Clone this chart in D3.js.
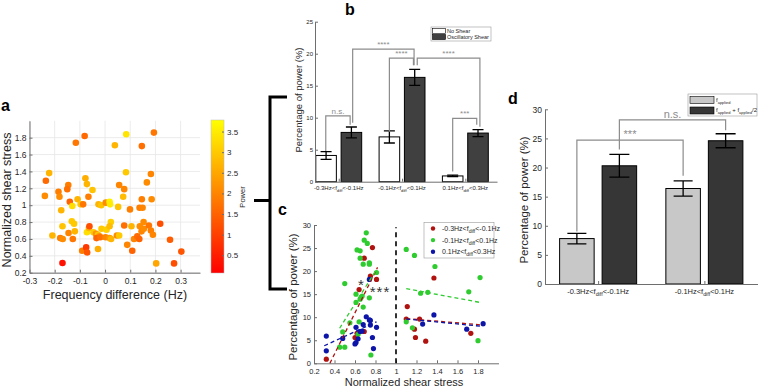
<!DOCTYPE html>
<html>
<head>
<meta charset="utf-8">
<script src="https://cdn.jsdelivr.net/npm/d3@7"></script>
<style>
  body { margin: 0; background: #fff; }
  text { font-family: "Liberation Sans", Arial, sans-serif; }
</style>
</head>
<body>
<svg id="fig" width="758" height="387"></svg>
<script>
// ---- panel a : frequency difference vs shear stress, coloured by power
const freqDiff = [-0.169,-0.081,-0.116,0.084,0.194,0.039,0.146,-0.222,-0.235,-0.239,-0.078,-0.072,-0.05,-0.066,-0.146,-0.15,-0.185,-0.181,-0.14,-0.13,-0.109,-0.097,-0.087,-0.174,-0.209,-0.169,-0.132,-0.123,-0.145,-0.12,-0.178,-0.168,-0.128,-0.091,-0.075,-0.071,-0.072,-0.064,-0.062,-0.046,-0.036,-0.028,-0.022,-0.034,-0.019,-0.028,-0.026,-0.015,-0.014,0.003,0.002,0.006,0.018,0.02,0.023,0.018,0.018,0.024,0.047,0.056,0.052,0.056,0.072,0.076,0.083,0.076,0.088,0.099,0.105,0.108,0.115,0.128,0.136,0.137,0.149,0.146,0.138,0.145,0.153,0.154,0.166,0.174,0.182,0.185,0.182,0.19,0.203,0.219,0.258,0.274,0.303];
const shearA = [0.315,1.82,1.74,1.84,1.86,1.71,1.70,1.38,1.29,1.11,1.32,1.25,1.18,1.10,1.24,1.19,1.16,1.10,1.04,0.99,1.07,1.01,1.01,0.94,0.64,0.75,0.81,0.78,0.67,0.69,0.61,0.60,0.60,0.46,0.50,0.44,0.68,0.73,0.75,0.68,0.66,0.65,0.63,0.61,0.62,0.48,1.01,1.0,0.72,1.03,0.62,0.71,1.04,1.01,0.80,0.75,0.61,0.60,0.64,0.64,0.98,1.24,1.10,1.19,1.39,0.76,0.53,0.95,0.75,0.46,0.60,0.63,0.60,0.97,0.97,1.07,0.75,0.69,0.80,0.72,1.27,0.76,1.37,1.07,0.70,0.65,0.31,0.78,0.59,0.31,0.45];
const powerA = [0.3,1.6,1.8,3.4,1.8,2.7,1.7,2.7,1.6,2.1,2.6,2.7,2.9,1.9,1.9,1.7,1.9,2.1,1.5,3.3,2.7,3.0,1.8,2.7,2.7,2.9,3.0,3.0,2.0,2.7,1.9,2.1,1.8,1.9,0.9,1.3,3.3,2.7,1.2,3.0,2.2,2.9,2.2,1.5,1.7,2.6,2.7,2.9,3.0,2.1,2.0,3.1,3.6,3.5,3.1,2.8,2.3,2.7,2.1,3.0,2.9,2.0,2.8,2.0,3.0,1.7,2.0,1.9,2.7,1.5,2.0,1.6,1.5,1.9,2.0,1.9,2.1,2.0,2.1,2.1,2.1,1.8,2.0,2.1,1.9,2.0,2.5,1.2,1.4,1.2,1.3];
const aXTicks = [-0.3,-0.2,-0.1,0,0.1,0.2,0.3];
const aYTicks = [0.2,0.4,0.6,0.8,1,1.2,1.4,1.6,1.8];
const powerTicks = [0.5,1,1.5,2,2.5,3,3.5];

// ---- panel b : power per band, no shear vs oscillatory shear
const bandLo = ["-0.3Hz","-0.1Hz","0.1Hz"];
const bandHi = ["-0.1Hz","0.1Hz","0.3Hz"];
const noShear = [4.1, 7.0, 0.9];
const noShearErr = [0.6, 0.95, 0.12];
const oscShear = [7.7, 16.3, 7.6];
const oscShearErr = [0.85, 1.25, 0.55];
const bYTicks = [0,5,10,15,20,25];
// brackets: x1, x2, top, left foot, right foot, label
const bSig = [
  [0.795, 1.18, 10.3, 4.8, 8.9, "n.s."],
  [1.22, 2.19, 20.7, 9.2, 18.2, "****"],
  [1.80, 2.18, 19.3, 7.8, 18.2, "****"],
  [2.24, 3.23, 19.3, 18.2, 8.6, "****"],
  [2.80, 3.18, 9.9, 1.6, 8.9, "***"]
];

// ---- panel c : power vs normalized shear stress per band
const redX = [0.32,0.64,0.69,0.77,0.75,0.81,0.60,0.69,0.62,1.11,1.37,1.10,1.23,1.18,1.73,1.19,1.29];
const redY = [0.9,16.0,22.8,25.1,18.9,18.2,5.6,6.9,6.5,12.3,18.5,9.6,9.6,7.4,6.5,5.6,4.8];
const greenX = [0.71,0.69,0.72,0.62,0.65,0.65,0.74,0.74,0.68,0.81,0.50,0.61,0.67,0.66,0.74,0.65,0.61,0.68,0.55,0.64,0.48,0.63,0.45,0.50,0.755,1.10,1.18,1.38,1.82,1.24,1.31,1.71,1.10,1.16,1.80];
const greenY = [28.3,26.7,26.0,24.6,24.4,22.8,21.8,21.5,21.5,19.7,17.3,15.0,14.6,14.3,14.2,13.9,13.2,12.2,8.8,9.0,6.8,6.3,3.5,3.5,1.8,24.7,23.4,21.0,18.6,15.2,15.4,15.5,9.0,7.7,4.9];
const blueX = [0.32,0.32,0.48,0.61,0.74,0.71,0.74,0.75,0.68,0.75,0.81,0.65,0.67,0.63,0.60,0.61,0.77,0.78,1.37,1.26,1.69,1.85];
const blueY = [5.9,2.7,5.4,7.8,18.2,10.1,9.4,9.3,8.4,8.3,7.8,6.9,7.0,5.3,4.2,4.5,5.6,3.2,10.5,8.5,7.4,8.6];
// fitted lines (end points), below / above shear 1
const redFit = [[[0.355,0],[0.82,20.8]], [[1.1,9.7],[1.85,8.3]]];
const greenFit = [[[0.45,7.6],[0.80,20.0]], [[1.1,16.2],[1.82,13.2]]];
const blueFit = [[[0.30,3.8],[0.81,9.0]], [[1.1,9.6],[1.85,8.0]]];
const cXTicks = [0.2,0.4,0.6,0.8,1,1.2,1.4,1.6,1.8];
const cYTicks = [0,5,10,15,20,25,30];

// ---- panel d : f_applied vs f_applied + f_applied/2
const dLo = ["-0.3Hz","-0.1Hz"];
const dHi = ["-0.1Hz","0.1Hz"];
const fApplied = [7.8, 16.4];
const fAppliedErr = [0.9, 1.3];
const fHalf = [20.3, 24.6];
const fHalfErr = [1.95, 1.2];
const dYTicks = [0,5,10,15,20,25,30];
const dSig = [
  [0.80, 1.80, 24.7, 9.0, 18.6, "***"],
  [1.20, 2.20, 28.2, 23.1, 26.4, "n.s."]
];

const axisCol = "#6e6e6e";
const txtCol = "#262626";
const svg = d3.select("#fig");
const fmt = d => String(+(+d).toFixed(2));

function styleAxis(ax, fs) {
  ax.attr("font-family", null).attr("font-size", null);
  ax.select(".domain").attr("stroke", axisCol);
  ax.selectAll(".tick line").attr("stroke", axisCol);
  ax.selectAll(".tick text").attr("font-size", fs).attr("fill", txtCol);
}
function leftAxis(y, ticks, x0, fs, pad) {
  const ax = svg.append("g").attr("transform", `translate(${x0},0)`)
    .call(d3.axisLeft(y).tickValues(ticks).tickFormat(fmt).tickSize(-3).tickSizeOuter(0).tickPadding(pad || 3));
  styleAxis(ax, fs);
  return ax;
}
function bottomAxis(x, ticks, y0, fs, f) {
  const ax = svg.append("g").attr("transform", `translate(0,${y0})`)
    .call(d3.axisBottom(x).tickValues(ticks).tickFormat(f || fmt).tickSize(-3).tickSizeOuter(0).tickPadding(5));
  styleAxis(ax, fs);
  return ax;
}
function yLabel(txt, x, y, fs) {
  svg.append("text").attr("transform", `translate(${x},${y}) rotate(-90)`)
    .attr("text-anchor", "middle").attr("font-size", fs).attr("fill", txtCol).text(txt);
}
function panelLetter(t, x, y) {
  svg.append("text").attr("x", x).attr("y", y).attr("font-size", 16)
    .attr("font-weight", "bold").attr("fill", "#000").text(t);
}
// label with subscript "diff"
function bandLabel(g, x, y, lo, hi, fs) {
  const t = g.append("text").attr("x", x).attr("y", y).attr("text-anchor", "middle")
    .attr("font-size", fs).attr("fill", txtCol);
  t.append("tspan").text(lo + "<f");
  t.append("tspan").attr("dy", fs * 0.3).attr("font-size", fs * 0.7).text("diff");
  t.append("tspan").attr("dy", -fs * 0.3).text("<" + hi);
}
function sigBrackets(list, x, y, fs, col) {
  list.forEach(s => {
    svg.append("path")
      .attr("d", `M${x(s[0])},${y(s[3])}V${y(s[2])}H${x(s[1])}V${y(s[4])}`)
      .attr("fill", "none").attr("stroke", col).attr("stroke-width", 1.2);
    svg.append("text").attr("x", (x(s[0]) + x(s[1])) / 2).attr("y", y(s[2]) - 2)
      .attr("text-anchor", "middle").attr("font-size", fs).attr("fill", col).text(s[5]);
  });
}
function errBars(xs, vals, errs, x, y, cap) {
  vals.forEach((v, i) => {
    const cx = x(xs[i]);
    svg.append("path")
      .attr("d", `M${cx},${y(v - errs[i])}V${y(v + errs[i])}M${cx - cap / 2},${y(v - errs[i])}h${cap}M${cx - cap / 2},${y(v + errs[i])}h${cap}`)
      .attr("stroke", "#000").attr("stroke-width", 1.3).attr("fill", "none");
  });
}

// ================= panel a
const xA = d3.scaleLinear([-0.3, 0.377], [29.5, 200]);
const yA = d3.scaleLinear([0.2, 2.0], [272.7, 120.8]);
const cbMin = 0.07, cbMax = 3.78;
const colA = p => d3.rgb(255, Math.round(255 * (p - cbMin) / (cbMax - cbMin)), 0);

const gridA = svg.append("g").attr("stroke", "#e6e6e6").attr("stroke-width", 0.8);
aXTicks.forEach(t => gridA.append("line").attr("x1", xA(t)).attr("x2", xA(t)).attr("y1", yA(2.0)).attr("y2", yA(0.2)));
aYTicks.forEach(t => gridA.append("line").attr("x1", xA(-0.3)).attr("x2", xA(0.377)).attr("y1", yA(t)).attr("y2", yA(t)));
leftAxis(yA, aYTicks, 29.5, 8.5);
bottomAxis(xA, aXTicks, 272.7, 8.5);

svg.append("g").selectAll("circle").data(freqDiff).join("circle")
  .attr("cx", d => xA(d)).attr("cy", (d, i) => yA(shearA[i]))
  .attr("r", 3.3).attr("fill", (d, i) => colA(powerA[i]));

svg.append("text").attr("x", 115).attr("y", 299).attr("text-anchor", "middle")
  .attr("font-size", 12.5).attr("fill", txtCol).text("Frequency difference (Hz)");
yLabel("Normalized shear stress", 11, 200, 12.5);

// colorbar
const cbY = d3.scaleLinear([cbMin, cbMax], [273, 120]);
const grad = svg.append("defs").append("linearGradient").attr("id", "autumn")
  .attr("x1", 0).attr("y1", 1).attr("x2", 0).attr("y2", 0);
grad.append("stop").attr("offset", 0).attr("stop-color", "#ff0000");
grad.append("stop").attr("offset", 1).attr("stop-color", "#ffff00");
svg.append("rect").attr("x", 211).attr("y", 120).attr("width", 13).attr("height", 153)
  .attr("fill", "url(#autumn)").attr("stroke", "#bbb").attr("stroke-width", 0.5);
const cbAx = svg.append("g").attr("transform", "translate(224,0)")
  .call(d3.axisRight(cbY).tickValues(powerTicks).tickFormat(fmt).tickSize(-2).tickSizeOuter(0).tickPadding(3));
styleAxis(cbAx, 8);
cbAx.select(".domain").remove();
svg.append("text").attr("transform", "translate(245,197) rotate(-90)").attr("text-anchor", "middle")
  .attr("font-size", 7.5).attr("fill", txtCol).text("Power");
panelLetter("a", 1, 111);

// connector bracket
svg.append("path").attr("d", "M254,200.5H270M287,97H270V289H287")
  .attr("fill", "none").attr("stroke", "#000").attr("stroke-width", 3);

// ================= panel b
const xB = d3.scaleLinear([0.625, 3.5], [315, 497]);
const yB = d3.scaleLinear([0, 25], [181.7, 21.7]);
const bw = 0.325, off = 0.2;
const groupsB = [1, 2, 3];
svg.append("g").selectAll("rect").data(noShear).join("rect")
  .attr("x", (d, i) => xB(groupsB[i] - off - bw / 2)).attr("width", xB(bw) - xB(0))
  .attr("y", d => yB(d)).attr("height", d => yB(0) - yB(d))
  .attr("fill", "#fff").attr("stroke", "#000").attr("stroke-width", 1);
svg.append("g").selectAll("rect").data(oscShear).join("rect")
  .attr("x", (d, i) => xB(groupsB[i] + off - bw / 2)).attr("width", xB(bw) - xB(0))
  .attr("y", d => yB(d)).attr("height", d => yB(0) - yB(d))
  .attr("fill", "#404040").attr("stroke", "#000").attr("stroke-width", 1);
leftAxis(yB, bYTicks, 315, 6, 2);
bottomAxis(xB, groupsB, 181.7, 6, () => "");
errBars(groupsB.map(g => g - off), noShear, noShearErr, xB, yB, 11);
errBars(groupsB.map(g => g + off), oscShear, oscShearErr, xB, yB, 11);
groupsB.forEach((g, i) => bandLabel(svg, xB(g), 190, bandLo[i], bandHi[i], 6));
sigBrackets(bSig, xB, yB, 8, "#8c8c8c");
yLabel("Percentage of power (%)", 302, 100, 9.5);
// legend b
svg.append("rect").attr("x", 431).attr("y", 27).attr("width", 60).attr("height", 14)
  .attr("fill", "#fff").attr("stroke", "#999").attr("stroke-width", 0.6);
[["No Shear", "#fff"], ["Oscillatory Shear", "#404040"]].forEach((e, i) => {
  svg.append("rect").attr("x", 432.5).attr("y", 28.5 + i * 6).attr("width", 13).attr("height", 5)
    .attr("fill", e[1]).attr("stroke", "#000").attr("stroke-width", 0.6);
  svg.append("text").attr("x", 447).attr("y", 33 + i * 6).attr("font-size", 5.5)
    .attr("fill", txtCol).text(e[0]);
});
panelLetter("b", 345, 15);

// ================= panel c
const xC = d3.scaleLinear([0.2, 2.0], [314, 498.5]);
const yC = d3.scaleLinear([0, 30], [363.3, 225]);
leftAxis(yC, cYTicks, 314, 7.5);
bottomAxis(xC, cXTicks, 363.3, 7.5);
svg.append("line").attr("x1", xC(1)).attr("x2", xC(1)).attr("y1", yC(0)).attr("y2", yC(29.5))
  .attr("stroke", "#000").attr("stroke-width", 1.6).attr("stroke-dasharray", "5,4");

const seriesC = [
  { xs: redX, ys: redY, col: "#b0120f", fit: redFit, lo: "-0.3Hz", hi: "-0.1Hz" },
  { xs: greenX, ys: greenY, col: "#2fcc2f", fit: greenFit, lo: "-0.1Hz", hi: "0.1Hz" },
  { xs: blueX, ys: blueY, col: "#0d14a8", fit: blueFit, lo: "0.1Hz", hi: "0.3Hz" }
];
seriesC.forEach(s => {
  svg.append("g").selectAll("circle").data(s.xs).join("circle")
    .attr("cx", d => xC(d)).attr("cy", (d, i) => yC(s.ys[i])).attr("r", 2.6).attr("fill", s.col);
});
seriesC.forEach(s => {
  s.fit.forEach(seg => {
    svg.append("path").attr("d", d3.line().x(p => xC(p[0])).y(p => yC(p[1]))(seg))
      .attr("fill", "none").attr("stroke", s.col).attr("stroke-width", 1.3).attr("stroke-dasharray", "4,3");
  });
});
svg.append("text").attr("x", 361).attr("y", 290).attr("text-anchor", "middle")
  .attr("font-size", 15).attr("fill", "#333").text("*");
svg.append("text").attr("x", 380).attr("y", 297).attr("text-anchor", "middle")
  .attr("font-size", 15).attr("fill", "#333").attr("letter-spacing", 1).text("***");
svg.append("text").attr("x", 404).attr("y", 386).attr("text-anchor", "middle")
  .attr("font-size", 11).attr("fill", txtCol).text("Normalized shear stress");
yLabel("Percentage of power (%)", 297, 297, 11.5);
// legend c
svg.append("rect").attr("x", 424).attr("y", 222.5).attr("width", 70).attr("height", 35.5)
  .attr("fill", "#fff").attr("stroke", "#999").attr("stroke-width", 0.6);
seriesC.forEach((s, i) => {
  svg.append("circle").attr("cx", 433).attr("cy", 228.5 + i * 11.6).attr("r", 2.2).attr("fill", s.col);
  const t = svg.append("text").attr("x", 442).attr("y", 231 + i * 11.6).attr("font-size", 7).attr("fill", txtCol);
  t.append("tspan").text(s.lo + "<f");
  t.append("tspan").attr("dy", 2).attr("font-size", 5).text("diff");
  t.append("tspan").attr("dy", -2).text("<" + s.hi);
});
panelLetter("c", 278, 215);

// ================= panel d
const xD = d3.scaleLinear([0.5, 2.5], [545, 757.5]);
const yD = d3.scaleLinear([0, 30], [284, 109.3]);
const groupsD = [1, 2];
svg.append("g").selectAll("rect").data(fApplied).join("rect")
  .attr("x", (d, i) => xD(groupsD[i] - off - bw / 2)).attr("width", xD(bw) - xD(0))
  .attr("y", d => yD(d)).attr("height", d => yD(0) - yD(d))
  .attr("fill", "#c8c8c8").attr("stroke", "#000").attr("stroke-width", 1);
svg.append("g").selectAll("rect").data(fHalf).join("rect")
  .attr("x", (d, i) => xD(groupsD[i] + off - bw / 2)).attr("width", xD(bw) - xD(0))
  .attr("y", d => yD(d)).attr("height", d => yD(0) - yD(d))
  .attr("fill", "#363636").attr("stroke", "#000").attr("stroke-width", 1);
leftAxis(yD, dYTicks, 545, 8.5);
bottomAxis(xD, groupsD, 284, 8, () => "");
errBars(groupsD.map(g => g - off), fApplied, fAppliedErr, xD, yD, 19);
errBars(groupsD.map(g => g + off), fHalf, fHalfErr, xD, yD, 20);
groupsD.forEach((g, i) => bandLabel(svg, xD(g), 294, dLo[i], dHi[i], 7.5));
sigBrackets(dSig, xD, yD, 11, "#8c8c8c");
yLabel("Percentage of power (%)", 528, 200, 11.5);
// legend d
svg.append("rect").attr("x", 688).attr("y", 94).attr("width", 69).attr("height", 22)
  .attr("fill", "#fff").attr("stroke", "#999").attr("stroke-width", 0.6);
[["#c8c8c8", false], ["#363636", true]].forEach((e, i) => {
  svg.append("rect").attr("x", 690).attr("y", 96.5 + i * 10.5).attr("width", 24).attr("height", 7)
    .attr("fill", e[0]).attr("stroke", "#000").attr("stroke-width", 0.6);
  const t = svg.append("text").attr("x", 716).attr("y", 101.5 + i * 10.5).attr("font-size", 6).attr("fill", txtCol);
  t.append("tspan").text("f");
  t.append("tspan").attr("dy", 2).attr("font-size", 4).text("applied");
  if (e[1]) {
    t.append("tspan").attr("dy", -2).text(" + f");
    t.append("tspan").attr("dy", 2).attr("font-size", 4).text("applied");
    t.append("tspan").attr("dy", -2).text("/2");
  }
});
panelLetter("d", 508, 104);
</script>
</body>
</html>
